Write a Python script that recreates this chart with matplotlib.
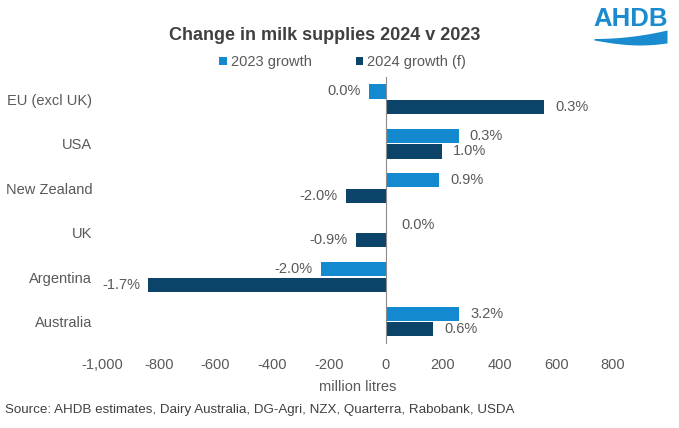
import numpy as np
import matplotlib.pyplot as plt

plt.rcParams['font.family'] = ['Liberation Sans', 'DejaVu Sans']

# Data
countries = ['EU (excl UK)', 'USA', 'New Zealand', 'UK', 'Argentina', 'Australia']
growth_2023 = [-60, 256, 188, 0, -230, 258]          # million litres
growth_2024 = [558, 198, -140, -107, -836, 166]      # million litres (forecast)
pct_2023 = ['0.0%', '0.3%', '0.9%', '0.0%', '-2.0%', '3.2%']
pct_2024 = ['0.3%', '1.0%', '-2.0%', '-0.9%', '-1.7%', '0.6%']
x_ticks = [-1000, -800, -600, -400, -200, 0, 200, 400, 600, 800]

c23 = '#138AD0'
c24 = '#0B4468'
grey = '#595959'

fig = plt.figure(figsize=(6.79, 4.28), dpi=100)
ax = fig.add_axes([0.150, 0.197, 0.753, 0.623])

y = np.arange(len(countries))
h = 0.32
off = 0.175
b1 = ax.barh(y - off, growth_2023, height=h, color=c23, label='2023 growth')
b2 = ax.barh(y + off, growth_2024, height=h, color=c24, label='2024 growth (f)')

# data labels at bar ends
for bars, labels in [(b1, pct_2023), (b2, pct_2024)]:
    for bar, lab in zip(bars, labels):
        v = bar.get_width()
        yc = bar.get_y() + bar.get_height() / 2
        if v < 0:
            ax.annotate(lab, (v, yc), xytext=(-6, 0), textcoords='offset points',
                        ha='right', va='center', fontsize=10.5, color=grey)
        else:
            ax.annotate(lab, (v, yc), xytext=(8 if v > 0 else 11, 0),
                        textcoords='offset points',
                        ha='left', va='center', fontsize=10.5, color=grey)

ax.set_xlim(-1000, 800)
ax.set_ylim(len(countries) - 0.5, -0.5)
ax.set_xticks(x_ticks)
ax.set_xticklabels([f'{t:,}' for t in x_ticks])
ax.set_yticks(y)
ax.set_yticklabels(countries)
ax.tick_params(axis='both', length=0, labelsize=10.5, labelcolor=grey)
ax.tick_params(axis='x', pad=10)
ax.tick_params(axis='y', pad=7)
for s in ax.spines.values():
    s.set_visible(False)
ax.axvline(0, color='#8c8c8c', lw=0.8)
ax.set_xlabel('million litres', fontsize=10.5, color=grey, labelpad=6)

fig.text(0.478, 0.918, 'Change in milk supplies 2024 v 2023', ha='center', va='center',
         fontsize=13, fontweight='bold', color='#404040')
fig.legend(handles=[b1, b2], loc='center', bbox_to_anchor=(0.505, 0.855), ncol=2,
           frameon=False, fontsize=10.5, labelcolor=grey, handlelength=0.5,
           handleheight=0.5, handletextpad=0.3, columnspacing=3.0)
fig.text(0.008, 0.042, 'Source: AHDB estimates, Dairy Australia, DG-Agri, NZX, Quarterra, Rabobank, USDA',
         ha='left', va='center', fontsize=9.6, color='#404040')

# logo (drawn in a small axes measured in pixels)
lax = fig.add_axes([585 / 679, 1 - 50 / 428, 90 / 679, 50 / 428])
lax.set_xlim(0, 90)
lax.set_ylim(50, 0)
lax.axis('off')
lax.text(45.5, 18.5, 'AHDB', ha='center', va='center', fontsize=18.5, fontweight='bold',
         color='#1A8BCF')
xx = np.linspace(9, 82, 120)
t = (xx - 9) / 73
top = 38.5 - 8.5 * t ** 2
bot = 40 + 5 * np.sin(np.pi * t * 0.8)
lax.fill_between(xx, top, bot, color='#1A8BCF', lw=0)

fig.savefig('out.png', dpi=100)
